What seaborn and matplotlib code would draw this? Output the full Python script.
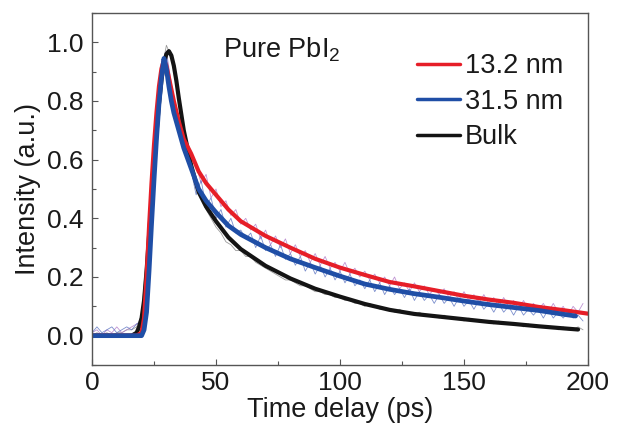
import numpy as np
import pandas as pd
import matplotlib
matplotlib.use("Agg")
import matplotlib.pyplot as plt
import seaborn as sns
from matplotlib.ticker import MultipleLocator

# ---------------- data ----------------
series_labels = ["13.2 nm", "31.5 nm", "Bulk"]

# fitted curves
fit_t_red = [0, 15, 18, 20, 21, 22, 23, 24, 25, 26, 27, 28, 29, 30, 31, 32, 33, 35, 37, 40, 43, 46, 50,
             55, 60, 70, 80, 90, 100, 110, 120, 130, 140, 150, 160, 170, 180, 190, 200]
fit_red = [0, 0, 0, 0.01, 0.06, 0.2, 0.37, 0.52, 0.65, 0.76, 0.85, 0.91, 0.94, 0.92, 0.88, 0.84, 0.80,
           0.73, 0.67, 0.62, 0.56, 0.52, 0.48, 0.43, 0.39, 0.34, 0.30, 0.262, 0.232, 0.207, 0.183,
           0.168, 0.152, 0.136, 0.123, 0.112, 0.098, 0.087, 0.075]

fit_t_blue = [0, 20, 21, 22, 23, 24, 25, 26, 27, 28, 29, 30, 31, 32, 33, 35, 37, 40, 43, 46, 50,
              55, 60, 70, 80, 90, 100, 110, 120, 130, 140, 150, 160, 170, 180, 190, 195]
fit_blue = [0, 0, 0.02, 0.08, 0.22, 0.38, 0.53, 0.67, 0.79, 0.88, 0.945, 0.91, 0.85, 0.80, 0.76,
            0.70, 0.64, 0.57, 0.50, 0.46, 0.42, 0.375, 0.345, 0.30, 0.262, 0.232, 0.203, 0.176,
            0.158, 0.143, 0.131, 0.118, 0.106, 0.096, 0.086, 0.073, 0.067]

fit_t_black = [0, 16, 18, 19, 20, 21, 22, 23, 24, 25, 26, 27, 28, 29, 30, 31, 32, 33, 34, 35, 37, 40,
               43, 46, 50, 55, 60, 70, 80, 90, 100, 110, 120, 130, 140, 150, 160, 170, 180, 190, 196]
fit_black = [0, 0, 0.01, 0.03, 0.06, 0.12, 0.22, 0.34, 0.46, 0.58, 0.69, 0.79, 0.87, 0.93, 0.96,
             0.97, 0.955, 0.92, 0.87, 0.81, 0.70, 0.58, 0.49, 0.44, 0.39, 0.335, 0.295, 0.238,
             0.195, 0.16, 0.133, 0.108, 0.088, 0.074, 0.065, 0.056, 0.047, 0.04, 0.032, 0.025, 0.021]

# raw (noisy) measurements, sampled every 2 ps
raw_red = [0.01, 0.02, 0.00, 0.02, 0.01, 0.03, 0.01, 0.02, 0.03, 0.04,
           0.05, 0.24, 0.55, 0.78, 0.93, 0.97, 0.86, 0.77, 0.70, 0.66,
           0.60, 0.58, 0.52, 0.55, 0.47, 0.50, 0.44, 0.46, 0.41, 0.43,
           0.38, 0.40, 0.36, 0.38, 0.33, 0.36, 0.31, 0.34, 0.30, 0.33,
           0.28, 0.31, 0.27, 0.29, 0.25, 0.28, 0.24, 0.27, 0.23, 0.25,
           0.22, 0.25, 0.21, 0.23, 0.20, 0.22, 0.19, 0.21, 0.18, 0.20,
           0.17, 0.20, 0.16, 0.18, 0.15, 0.18, 0.15, 0.17, 0.14, 0.16,
           0.14, 0.16, 0.13, 0.15, 0.12, 0.15, 0.12, 0.14, 0.11, 0.14,
           0.11, 0.13, 0.10, 0.13, 0.10, 0.12, 0.09, 0.12, 0.09, 0.11,
           0.09, 0.11, 0.08, 0.11, 0.08, 0.10, 0.07, 0.10, 0.08, 0.11]
raw_blue = [0.01, 0.03, 0.01, 0.02, 0.03, 0.01, 0.02, 0.03, 0.02, 0.04,
            0.05, 0.20, 0.50, 0.74, 0.92, 0.96, 0.84, 0.74, 0.66, 0.62,
            0.56, 0.48, 0.53, 0.44, 0.47, 0.40, 0.43, 0.37, 0.40, 0.35,
            0.36, 0.33, 0.35, 0.30, 0.34, 0.29, 0.31, 0.27, 0.31, 0.26,
            0.28, 0.24, 0.27, 0.22, 0.25, 0.21, 0.24, 0.20, 0.23, 0.19,
            0.22, 0.18, 0.21, 0.17, 0.19, 0.16, 0.19, 0.15, 0.18, 0.14,
            0.17, 0.14, 0.16, 0.13, 0.16, 0.12, 0.15, 0.12, 0.14, 0.11,
            0.14, 0.11, 0.13, 0.10, 0.13, 0.10, 0.12, 0.09, 0.12, 0.09,
            0.11, 0.08, 0.11, 0.08, 0.10, 0.07, 0.10, 0.07, 0.09, 0.07,
            0.09, 0.06, 0.09, 0.06, 0.08, 0.06, 0.08, 0.06, 0.07, 0.05]
raw_black = [0.00, 0.01, 0.00, 0.01, 0.00, 0.01, 0.01, 0.02, 0.02, 0.03,
             0.07, 0.28, 0.52, 0.74, 0.90, 0.99, 0.95, 0.85, 0.74, 0.64,
             0.58, 0.50, 0.47, 0.43, 0.40, 0.37, 0.35, 0.32, 0.31, 0.29,
             0.29, 0.27, 0.27, 0.25, 0.24, 0.23, 0.22, 0.21, 0.20, 0.19,
             0.19, 0.18, 0.17, 0.17, 0.16, 0.15, 0.15, 0.14, 0.14, 0.13,
             0.13, 0.12, 0.12, 0.11, 0.11, 0.10, 0.11, 0.10, 0.09, 0.09,
             0.09, 0.08, 0.09, 0.08, 0.08, 0.07, 0.08, 0.07, 0.07, 0.07,
             0.06, 0.07, 0.06, 0.06, 0.06, 0.05, 0.06, 0.05, 0.05, 0.05,
             0.05, 0.04, 0.05, 0.04, 0.04, 0.04, 0.04, 0.03, 0.04, 0.03,
             0.03, 0.03, 0.03, 0.03, 0.02, 0.03, 0.02, 0.02, 0.03, 0.02]
raw_t = list(range(0, 200, 2))

xticks = [0, 50, 100, 150, 200]
yticks = [0.0, 0.2, 0.4, 0.6, 0.8, 1.0]

# ---------------- style ----------------
sns.set_style("ticks")
plt.rcParams["font.family"] = ["Liberation Sans", "DejaVu Sans"]
plt.rcParams["mathtext.fontset"] = "custom"
plt.rcParams["mathtext.rm"] = "Liberation Sans"
plt.rcParams["mathtext.it"] = "Liberation Sans:italic"

RED = "#e61e28"
BLUE = "#1f4ea6"
BLACK = "#141414"
TXT = "#1a1a1a"

fig = plt.figure(figsize=(6.19, 4.25), dpi=100)
ax = fig.add_axes([92 / 619, 60 / 425, 496 / 619, 352 / 425])

# raw noisy data
sns.lineplot(x=raw_t, y=raw_black, ax=ax, color="#707070", lw=0.6, legend=False, alpha=0.7)
sns.lineplot(x=raw_t, y=raw_red, ax=ax, color="#b07ac8", lw=0.6, legend=False, alpha=0.8)
sns.lineplot(x=raw_t, y=raw_blue, ax=ax, color="#5a72c0", lw=0.6, legend=False, alpha=0.8)

# fitted curves
sns.lineplot(x=fit_t_black, y=fit_black, ax=ax, color=BLACK, lw=3.0, label=series_labels[2])
sns.lineplot(x=fit_t_red, y=fit_red, ax=ax, color=RED, lw=3.0, label=series_labels[0])
sns.lineplot(x=fit_t_blue, y=fit_blue, ax=ax, color=BLUE, lw=3.4, label=series_labels[1])

ax.set_xlim(0, 200)
ax.set_ylim(-0.1, 1.1)
ax.set_xticks(xticks)
ax.set_yticks(yticks)
ax.set_xticklabels([str(v) for v in xticks])
ax.set_yticklabels([f"{v:.1f}" for v in yticks])
ax.xaxis.set_minor_locator(MultipleLocator(25))
ax.yaxis.set_minor_locator(MultipleLocator(0.1))
ax.tick_params(which="major", direction="in", length=4.5, width=0.8, labelsize=19,
               color="#555555", labelcolor=TXT)
ax.tick_params(axis="y", which="major", pad=6)
ax.tick_params(axis="x", which="major", pad=4)
ax.tick_params(which="minor", direction="in", length=3, width=0.8, color="#555555")
for s in ax.spines.values():
    s.set_visible(True)
    s.set_color("#555555")
    s.set_linewidth(1.0)

ax.set_xlabel("Time delay (ps)", fontsize=19.5, labelpad=2, color=TXT)
ax.set_ylabel("Intensity (a.u.)", fontsize=19.5, labelpad=4, color=TXT)

ax.text(52.8, 0.947, r"Pure PbI$_\mathrm{2}$", fontsize=19.5, va="baseline", ha="left", color=TXT)

handles, labels = ax.get_legend_handles_labels()
order = [labels.index(l) for l in series_labels]
leg = ax.legend([handles[i] for i in order], [labels[i] for i in order],
                loc="upper left", bbox_to_anchor=(417 / 619, 1 - 53 / 425),
                bbox_transform=fig.transFigure, frameon=False, fontsize=19.5,
                handlelength=1.59, handletextpad=0.18, labelspacing=0.36,
                borderpad=0, borderaxespad=0)
for line in leg.get_lines():
    line.set_linewidth(2.5)
for t in leg.get_texts():
    t.set_color(TXT)

fig.savefig("out.png", dpi=100)
